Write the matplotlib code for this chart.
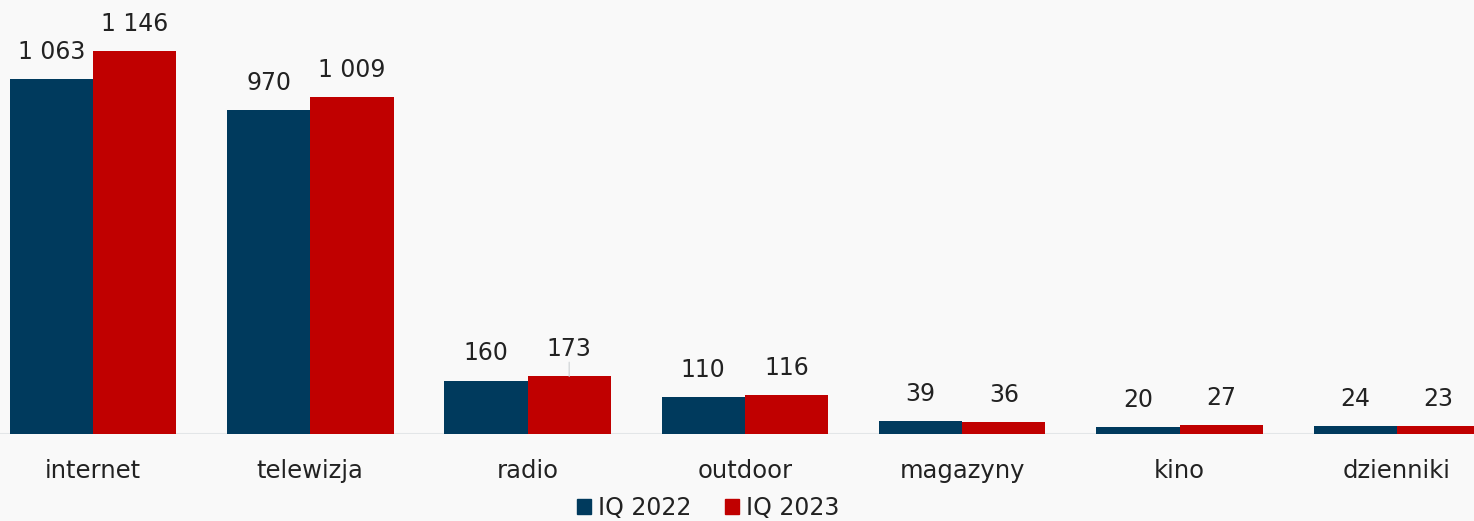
import matplotlib
matplotlib.use("Agg")
import matplotlib.pyplot as plt
import numpy as np
from matplotlib.patches import Patch

categories = ["internet", "telewizja", "radio", "outdoor", "magazyny", "kino", "dzienniki"]
series_names = ["IQ 2022", "IQ 2023"]
values_2022 = [1063, 970, 160, 110, 39, 20, 24]
values_2023 = [1146, 1009, 173, 116, 36, 27, 23]
colors = ["#003A5D", "#C00000"]

def fmt(v):
    return f"{v:,}".replace(",", " ")

plt.rcParams['font.family'] = ['DejaVu Sans']
bg = "#F9F9F9"
fig = plt.figure(figsize=(14.74, 5.21), dpi=100, facecolor=bg)
ax = fig.add_axes([0, 87/521, 1, 434/521])
ax.set_facecolor(bg)

x = np.arange(len(categories))
w = 0.383
b1 = ax.bar(x - w/2, values_2022, width=w, color=colors[0], label=series_names[0], zorder=2)
b2 = ax.bar(x + w/2, values_2023, width=w, color=colors[1], label=series_names[1], zorder=2)

for bars, vals in ((b1, values_2022), (b2, values_2023)):
    for r, v in zip(bars, vals):
        ax.annotate(fmt(v), (r.get_x() + r.get_width()/2, v), xytext=(0, 19.5),
                    textcoords="offset points", ha="center", va="center",
                    fontsize=17, color="#222222")

# small leader line above the radio IQ 2023 bar
r = b2[2]
ax.annotate("", (r.get_x() + r.get_width()/2, values_2023[2]), xytext=(0, 10),
            textcoords="offset points",
            arrowprops=dict(arrowstyle="-", color="#D5D9DB", lw=1, shrinkA=0, shrinkB=0))

ax.set_xlim(-93/217.3, (1474-93)/217.3)
ax.set_ylim(0, 434/0.3342)
ax.axhline(0, color="#E3E6E8", lw=1.5, zorder=1)
for s in ax.spines.values():
    s.set_visible(False)
ax.set_yticks([])
ax.set_xticks(x)
ax.set_xticklabels(categories, fontsize=17.5, color="#222222")
ax.tick_params(axis="x", length=0, pad=18)

handles = [Patch(color=colors[0]), Patch(color=colors[1])]
fig.legend(handles, series_names, loc="center", bbox_to_anchor=(708/1474, 1 - 508/521),
           ncol=2, frameon=False, fontsize=17, handlelength=0.6, handleheight=0.6,
           handletextpad=0.3, columnspacing=1.4, labelcolor="#222222")

fig.savefig("out.png", dpi=100, facecolor=bg)
